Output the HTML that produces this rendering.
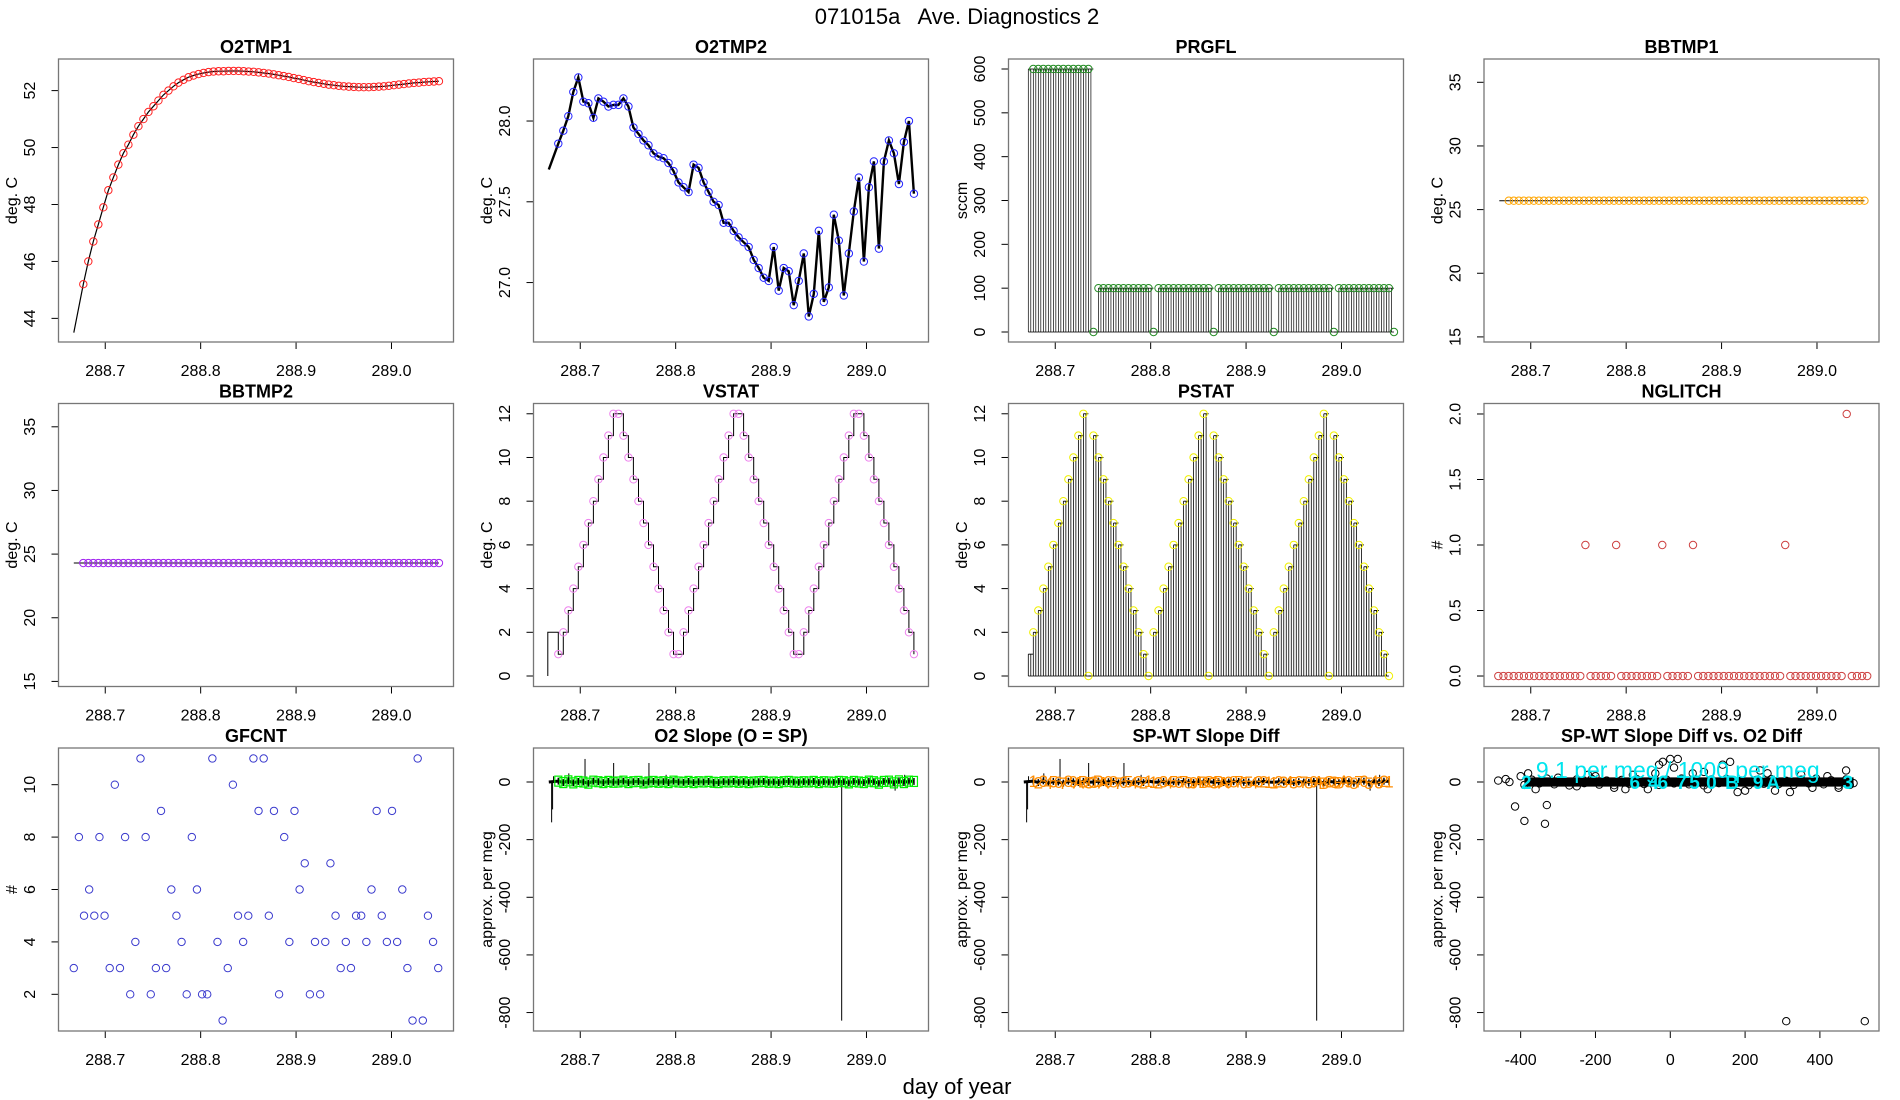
<!DOCTYPE html>
<html><head><meta charset="utf-8">
<style>
html,body{margin:0;padding:0;background:#fff;}
svg{display:block;font-family:"Liberation Sans",Arial,sans-serif;}
</style></head>
<body>
<svg id="chart" width="1900" height="1100" viewBox="0 0 1900 1100" xmlns="http://www.w3.org/2000/svg">
<rect x="0" y="0" width="1900" height="1100" fill="#fff"/>
<text x="957" y="24" font-size="22" text-anchor="middle" xml:space="preserve" style="white-space:pre">071015a   Ave. Diagnostics 2</text>
<text x="957" y="1094" font-size="22" text-anchor="middle">day of year</text>
</svg>
<script>
// ---- data ----
const sampleStart = 288.677;
const sampleStep = 0.00525;
const o2tmp1Lead = [288.667, 43.5];
const o2tmp1Vals = [45.2,46.0,46.7,47.3,47.9,48.5,48.95,49.4,49.8,50.1,50.45,50.75,
51.0,51.25,51.45,51.65,51.85,52.0,52.15,52.28,52.38,52.47,52.53,52.58,
52.62,52.65,52.67,52.68,52.68,52.69,52.69,52.69,52.68,52.67,52.66,52.64,
52.62,52.6,52.57,52.54,52.51,52.48,52.44,52.41,52.37,52.33,52.3,52.27,
52.24,52.21,52.19,52.17,52.15,52.14,52.13,52.12,52.12,52.12,52.13,52.14,
52.15,52.17,52.19,52.21,52.23,52.25,52.27,52.28,52.3,52.31,52.32,52.33];
const o2tmp2Lead = [288.667, 27.7];
const o2tmp2Vals = [27.86,27.94,28.03,28.18,28.27,28.12,28.11,28.02,28.14,28.12,28.09,28.1,
28.1,28.14,28.09,27.96,27.92,27.88,27.85,27.8,27.78,27.77,27.74,27.69,
27.62,27.59,27.56,27.73,27.71,27.62,27.56,27.5,27.48,27.37,27.37,27.32,
27.28,27.25,27.22,27.14,27.09,27.03,27.01,27.22,26.95,27.09,27.07,26.86,
27.01,27.18,26.79,26.93,27.32,26.88,26.97,27.42,27.26,26.92,27.18,27.44,
27.65,27.13,27.59,27.75,27.21,27.75,27.88,27.8,27.61,27.87,28.0,27.55];
const prgflVals = [600,600,600,600,600,600,600,600,600,600,600,600,0,
100,100,100,100,100,100,100,100,100,100,100,0,
100,100,100,100,100,100,100,100,100,100,100,0,
100,100,100,100,100,100,100,100,100,100,100,0,
100,100,100,100,100,100,100,100,100,100,100,0,
100,100,100,100,100,100,100,100,100,100,100,0];
const bbtmp1Vals = Array(72).fill(25.7);
const bbtmp2Vals = Array(72).fill(24.3);
const vstatLead = [0, 2];
const vstatVals = [1,2,3,4,5,6,7,8,9,10,11,12,12,11,10,9,8,7,6,5,4,3,2,1,
1,2,3,4,5,6,7,8,9,10,11,12,12,11,10,9,8,7,6,5,4,3,2,1,
1,2,3,4,5,6,7,8,9,10,11,12,12,11,10,9,8,7,6,5,4,3,2,1];
const pstatVals = [2,3,4,5,6,7,8,9,10,11,12,0,11,10,9,8,7,6,5,4,3,2,1,0,
2,3,4,5,6,7,8,9,10,11,12,0,11,10,9,8,7,6,5,4,3,2,1,0,
2,3,4,5,6,7,8,9,10,11,12,0,11,10,9,8,7,6,5,4,3,2,1,0];
const nglitchStart = 288.666;
const nglitchStep = 0.00537;
const nglitchVals = [0,0,0,0,0,0,0,0,0,0,0,0,0,0,0,0,0,1,0,0,0,0,0,1,0,0,0,0,0,0,0,0,1,0,0,0,0,0,1,0,
0,0,0,0,0,0,0,0,0,0,0,0,0,0,0,0,1,0,0,0,0,0,0,0,0,0,0,0,2,0,0,0,0];
const gfStart = 288.667;
const gfcntVals = [3,8,5,6,5,8,5,3,10,3,8,2,
4,11,8,2,3,9,3,6,5,4,2,8,
6,2,2,11,4,1,3,10,5,4,5,11,
9,11,5,9,2,8,4,9,6,7,2,4,
2,4,7,5,3,4,3,5,5,4,6,9,
5,4,9,4,6,3,1,11,1,5,4,3];
const slopeVals = [3,-2,4,-3,2,0,-4,3,1,-2,2,-1,0,3,-2,1,2,-3,0,2,-1,1,-2,3,
0,-1,2,-2,1,0,2,-1,-2,1,0,2,-1,1,-2,0,1,2,-1,0,-2,1,2,0,
-1,1,0,2,-2,1,0,-1,2,1,-3,2,0,-2,3,1,-4,2,3,-3,4,-2,3,2];
const spikeDays = [288.670,288.671,288.672,288.688,288.705,288.735,288.772,288.79,288.84,288.974,289.03,289.04];
const spikeVals = [-140,-95,20,30,80,66,66,25,-20,-828,-30,25];
const scatX = [-460,-440,-430,-415,-390,-335,-330,310,520,-30,-20,0,20,10,140,160,-400,-380,-300,-250,-200,-150,-100,-60,-40,60,100,200,240,280,320,380,420,470,480,-360,-220,-120,90,180,260,350,450];
const scatY = [5,10,0,-85,-135,-145,-80,-830,-830,60,70,80,80,50,60,70,20,30,15,-15,20,-20,25,-25,30,30,-25,-30,40,-30,-35,-20,20,40,-10,-25,25,-25,35,-35,30,25,-20];
const bandX = [-390,-370,-350,-330,-310,-290,-270,-250,-230,-210,-190,-170,-150,-130,-110,-90,-70,-50,-30,-10,10,30,50,70,90,110,130,150,170,190,210,230,250,270,290,310,330,350,370,390,410,430,450,470,490];
const bandY = [-10,8,-5,12,-8,6,-12,9,-4,11,-9,5,-11,7,-6,10,-7,4,-10,8,-5,12,-8,6,-12,9,-4,11,-9,5,-11,7,-6,10,-7,4,-10,8,-5,12,-8,6,-12,9,-4];
const cyanLabelX = [-385,-95,-45,-20,30,65,110,165,235,275,475];
const cyanLabels = ["2","6","4","6","7","5","0","B","9","A","3"];

// ---- layout ----
const NS = "http://www.w3.org/2000/svg";
const svg = document.getElementById('chart');
const colL = [58.5,533.5,1008.5,1484], rowT = [59,403.5,748], W = 395, H = 283;
const dayMin = 288.651, dayMax = 289.065;
const dayTicks = [288.7,288.8,288.9,289.0];
const dayTickLabels = ["288.7","288.8","288.9","289.0"];

function el(tag, attrs, parent){
  const e = document.createElementNS(NS, tag);
  for (const k in attrs) e.setAttribute(k, attrs[k]);
  (parent||svg).appendChild(e);
  return e;
}
function makePanel(c, r, name, title, ylab, ymin, ymax, yticks, yfmt, xmin, xmax, xticks, xlabs){
  const g = el('g', {});
  
  
  const L = colL[c], T = rowT[r];
  const sx = v => L + (v - xmin) / (xmax - xmin) * W;
  const sy = v => T + H - (v - ymin) / (ymax - ymin) * H;
  const t = el('text', {x: L + W/2, y: T - 6, 'font-size': 18, 'font-weight': 'bold', 'text-anchor': 'middle'}, g);
  t.textContent = title;
  
  
  const ya = el('g', {}, g);
  
  
  el('line', {x1: L, x2: L, y1: sy(yticks[0]), y2: sy(yticks[yticks.length-1]), stroke: '#000', 'stroke-width': 1}, ya);
  yticks.forEach(v => {
    const y = sy(v);
    el('line', {x1: L-7, x2: L, y1: y, y2: y, stroke: '#000'}, ya);
    const tx = el('text', {x: L-28, y: y, 'font-size': 16, 'text-anchor': 'middle', 'dominant-baseline': 'central', transform: `rotate(-90 ${L-28} ${y})`}, ya);
    tx.textContent = yfmt(v);
  });
  const yl = el('text', {x: L-46, y: T+H/2, 'font-size': 16, 'text-anchor': 'middle', 'dominant-baseline': 'central', transform: `rotate(-90 ${L-46} ${T+H/2})`}, g);
  yl.textContent = ylab;
  
  
  const xa = el('g', {}, g);
  
  
  el('line', {x1: sx(xticks[0]), x2: sx(xticks[xticks.length-1]), y1: T+H, y2: T+H, stroke: '#000'}, xa);
  xticks.forEach((v,i) => {
    const x = sx(v);
    el('line', {x1: x, x2: x, y1: T+H, y2: T+H+7, stroke: '#000'}, xa);
    const tx = el('text', {x: x, y: T+H+34, 'font-size': 16, 'text-anchor': 'middle'}, xa);
    tx.textContent = xlabs[i];
  });
  const plot = el('g', {}, g);
  
  
  el('rect', {x: L, y: T, width: W, height: H, fill: 'none', stroke: '#777', 'stroke-width': 1.3}, g);
  return {g: plot, sx, sy};
}
const tday = i => sampleStart + i * sampleStep;
function circle(p, x, y, col, name){
  const c = el('circle', {cx: x, cy: y, r: 3.7, fill: 'none', stroke: col, 'stroke-width': 1}, p.g);
  
  
  return c;
}
function polyline(p, pts, col, w){
  return el('polyline', {points: pts.map(q => q[0].toFixed(1)+','+q[1].toFixed(1)).join(' '), fill: 'none', stroke: col, 'stroke-width': w||1}, p.g);
}
const f0 = v => String(v), f1 = v => v.toFixed(1);

// 1 O2TMP1
{
  const p = makePanel(0,0,'o2tmp1','O2TMP1','deg. C',43.17,53.11,[44,46,48,50,52],f0,dayMin,dayMax,dayTicks,dayTickLabels);
  const pts = [[p.sx(o2tmp1Lead[0]), p.sy(o2tmp1Lead[1])]].concat(o2tmp1Vals.map((v,i)=>[p.sx(tday(i)), p.sy(v)]));
  const ln = polyline(p, pts, '#000', 1.2);
  
  
  o2tmp1Vals.forEach((v,i)=>circle(p, p.sx(tday(i)), p.sy(v), '#ff2020', 'o2tmp1-point'));
}
// 2 O2TMP2
{
  const p = makePanel(1,0,'o2tmp2','O2TMP2','deg. C',26.632,28.384,[27.0,27.5,28.0],f1,dayMin,dayMax,dayTicks,dayTickLabels);
  const pts = [[p.sx(o2tmp2Lead[0]), p.sy(o2tmp2Lead[1])]].concat(o2tmp2Vals.map((v,i)=>[p.sx(tday(i)), p.sy(v)]));
  const ln = polyline(p, pts, '#000', 2.4);
  
  
  o2tmp2Vals.forEach((v,i)=>circle(p, p.sx(tday(i)), p.sy(v), '#2222ff', 'o2tmp2-point'));
}
// 3 PRGFL
{
  const p = makePanel(2,0,'prgfl','PRGFL','sccm',-22.8,622.8,[0,100,200,300,400,500,600],f0,dayMin,dayMax,dayTicks,dayTickLabels);
  const y0 = p.sy(0);
  prgflVals.forEach((v,i)=>{
    const x = p.sx(tday(i));
    const prev = i>0 ? prgflVals[i-1] : 600;
    const xp = p.sx(tday(i) - sampleStep);
    const xm = p.sx(tday(i) - sampleStep/2);
    el('line', {x1: xp, x2: x, y1: p.sy(prev), y2: p.sy(prev), stroke:'#000', 'stroke-width':0.8}, p.g);
    el('line', {x1: xp, x2: xp, y1: y0, y2: p.sy(prev), stroke:'#000', 'stroke-width':0.7}, p.g);
    el('line', {x1: xm, x2: xm, y1: y0, y2: p.sy(prev), stroke:'#000', 'stroke-width':0.7}, p.g);
    el('line', {x1: xp, x2: x, y1: y0, y2: y0, stroke:'#000', 'stroke-width':0.8}, p.g);
  });
  prgflVals.forEach((v,i)=>circle(p, p.sx(tday(i)), p.sy(v), '#228b22', 'prgfl-point'));
}
// 4 BBTMP1 / 5 BBTMP2
[[3,0,'bbtmp1','BBTMP1',bbtmp1Vals,'#ffa500'],[0,1,'bbtmp2','BBTMP2',bbtmp2Vals,'#a020f0']].forEach(cfg=>{
  const p = makePanel(cfg[0],cfg[1],cfg[2],cfg[3],'deg. C',14.6,36.83,[15,20,25,30,35],f0,dayMin,dayMax,dayTicks,dayTickLabels);
  const vals = cfg[4];
  const pts = [[p.sx(288.667), p.sy(vals[0])]].concat(vals.map((v,i)=>[p.sx(tday(i)), p.sy(v)]));
  polyline(p, pts, '#000', 1);
  vals.forEach((v,i)=>circle(p, p.sx(tday(i)), p.sy(v), cfg[5], cfg[2]+'-point'));
});
// 6 VSTAT
{
  const p = makePanel(1,1,'vstat','VSTAT','deg. C',-0.48,12.47,[0,2,4,6,8,10,12],f0,dayMin,dayMax,dayTicks,dayTickLabels);
  const pts = [[p.sx(288.666), p.sy(vstatLead[0])],[p.sx(288.666), p.sy(vstatLead[1])]];
  let prev = vstatLead[1];
  vstatVals.forEach((v,i)=>{ const x=p.sx(tday(i)); pts.push([x, p.sy(prev)]); pts.push([x, p.sy(v)]); prev=v; });
  const ln = polyline(p, pts, '#000', 1);
  
  
  vstatVals.forEach((v,i)=>circle(p, p.sx(tday(i)), p.sy(v), '#ee82ee', 'vstat-point'));
}
// 7 PSTAT
{
  const p = makePanel(2,1,'pstat','PSTAT','deg. C',-0.48,12.47,[0,2,4,6,8,10,12],f0,dayMin,dayMax,dayTicks,dayTickLabels);
  const y0 = p.sy(0);
  let prev = 1;
  pstatVals.forEach((v,i)=>{
    const x = p.sx(tday(i)), xp = p.sx(tday(i)-sampleStep), xm = p.sx(tday(i)-sampleStep/2);
    el('line', {x1: xp, x2: x, y1: p.sy(prev), y2: p.sy(prev), stroke:'#000', 'stroke-width':0.9}, p.g);
    el('line', {x1: xp, x2: xp, y1: y0, y2: p.sy(prev), stroke:'#000', 'stroke-width':0.8}, p.g);
    el('line', {x1: xm, x2: xm, y1: y0, y2: p.sy(prev), stroke:'#000', 'stroke-width':0.8}, p.g);
    el('line', {x1: xp, x2: x, y1: y0, y2: y0, stroke:'#000', 'stroke-width':0.8}, p.g);
    prev = v;
  });
  pstatVals.forEach((v,i)=>circle(p, p.sx(tday(i)), p.sy(v), '#f0f000', 'pstat-point'));
}
// 8 NGLITCH
{
  const p = makePanel(3,1,'nglitch','NGLITCH','#',-0.08,2.08,[0,0.5,1,1.5,2],f1,dayMin,dayMax,dayTicks,dayTickLabels);
  nglitchVals.forEach((v,i)=>circle(p, p.sx(nglitchStart + i*nglitchStep), p.sy(v), '#cd4040', 'nglitch-point'));
}
// 9 GFCNT
{
  const p = makePanel(0,2,'gfcnt','GFCNT','#',0.6,11.4,[2,4,6,8,10],f0,dayMin,dayMax,dayTicks,dayTickLabels);
  gfcntVals.forEach((v,i)=>circle(p, p.sx(gfStart + i*0.00538), p.sy(v), '#3a3acd', 'gfcnt-point'));
}
// 10 O2 Slope / 11 SP-WT
[[1,'o2-slope','O2 Slope (O = SP)'],[2,'spwt-slope','SP-WT Slope Diff']].forEach(cfg=>{
  const p = makePanel(cfg[0],2,cfg[1],cfg[2],'approx. per meg',-864,118,[-800,-600,-400,-200,0],f0,dayMin,dayMax,dayTicks,dayTickLabels);
  spikeDays.forEach((d,i)=>{
    el('line', {x1: p.sx(d), x2: p.sx(d), y1: p.sy(0), y2: p.sy(spikeVals[i]), stroke: '#000', 'stroke-width': 1}, p.g);
  });
  slopeVals.forEach((v,i)=>{
    const x = p.sx(tday(i));
    el('line', {x1: x, x2: x, y1: p.sy(v-12), y2: p.sy(v+12), stroke: '#000', 'stroke-width': 1.5}, p.g);
  });
  const pts = slopeVals.map((v,i)=>[p.sx(tday(i)), p.sy(v)]);
  polyline(p, [[p.sx(288.667), p.sy(0)]].concat(pts), '#000', 3);
  if (cfg[0]===1){
    slopeVals.forEach((v,i)=>{
      const r = el('rect', {x: p.sx(tday(i))-3.5, y: p.sy(v)-5, width: 7, height: 10, fill: 'none', stroke: '#00ee00', 'stroke-width': 1.2}, p.g);
      
      
    });
  } else {
    slopeVals.forEach((v,i)=>{
      const t = el('text', {x: p.sx(tday(i)), y: p.sy(v)+6, 'font-size': 17, fill: '#ff8c00', 'text-anchor': 'middle'}, p.g);
      t.textContent = vstatVals[i].toString(16).toUpperCase();
      
      
    });
  }
});
// 12 scatter
{
  const p = makePanel(3,2,'slope-scatter','SP-WT Slope Diff vs. O2 Diff','approx. per meg',-864,118,[-800,-600,-400,-200,0],f0,-498,558,[-400,-200,0,200,400],["-400","-200","0","200","400"]);
  el('rect', {x: p.sx(-390), y: p.sy(16), width: p.sx(490)-p.sx(-390), height: p.sy(-16)-p.sy(16), fill: '#000'}, p.g);
  bandX.forEach((x,i)=>circle(p, p.sx(x), p.sy(bandY[i]), '#000', 'scatter-point'));
  scatX.forEach((x,i)=>circle(p, p.sx(x), p.sy(scatY[i]), '#000', 'scatter-point'));
  cyanLabelX.forEach((x,i)=>{
    const t = el('text', {x: p.sx(x), y: p.sy(0)+7, 'font-size': 19, 'font-weight': 'bold', fill: '#00e5ee', 'text-anchor': 'middle'}, p.g);
    t.textContent = cyanLabels[i];
    
    
  });
  const a = el('text', {x: p.sx(20), y: p.sy(25)+3, 'font-size': 23, fill: '#00e5ee', 'text-anchor': 'middle'}, p.g);
  a.textContent = '9.1 per meg / 1000 per meg';
  
  
}
</script>
</body></html>
